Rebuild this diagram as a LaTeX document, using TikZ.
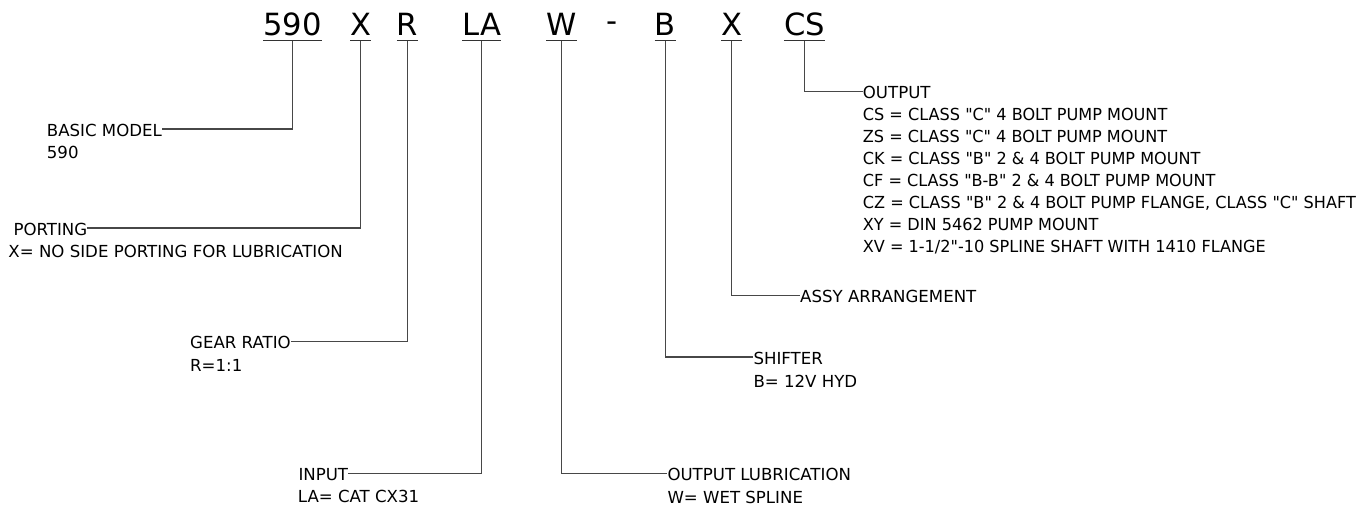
\documentclass[tikz,border=0pt]{standalone}
\usepackage{fontspec}
\setmainfont{DejaVu Sans}[Ligatures=TeXOff]
\newfontfamily\listfont{DejaVu Sans}[Ligatures=TeXOff,FakeStretch=0.97]
\begin{document}
\begin{tikzpicture}[x=1pt,y=-1pt,
  code/.style={inner sep=0pt,anchor=base,font=\fontsize{30.6}{36}\selectfont},
  lab/.style={inner sep=0pt,anchor=base west,font=\fontsize{16.6}{22}\selectfont},
  lst/.style={inner sep=0pt,anchor=base west,font=\listfont\fontsize{16.6}{22}\selectfont},
  wire/.style={draw=black!72,line width=1.2pt},
  uline/.style={draw=black!80,line width=1.2pt}]
\useasboundingbox[fill=white] (0,0) rectangle (1369,511);
% code letters
\node[code] (c590) at (292.6,35.7) {590};
\node[code] (cX)   at (360.8,35.7) {X};
\node[code] (cR)   at (407.6,35.7) {R};
\node[code] (cLA)  at (481.8,35.7) {LA};
\node[code] (cW)   at (561.8,35.7) {W};
\node[code] (cdash) at (612.3,31.5) {-};
\node[code] (cB)   at (665.2,35.7) {B};
\node[code] (cX2)  at (731.8,35.7) {X};
\node[code] (cCS)  at (804.4,35.7) {CS};
% underlines
\foreach \n in {c590,cX,cR,cLA,cW,cB,cX2,cCS}{
  \draw[uline] ([yshift=-5pt]\n.base west) -- ([yshift=-5pt]\n.base east);
  \coordinate (s\n) at ([yshift=-5pt]\n.base);
}
% labels
\node[lab] (bm) at (46.7,136) {BASIC MODEL};
\node[lab] (bmv) at (46.7,158.3) {590};
\node[lab] (port) at (13.3,235) {PORTING};
\node[lab] (portv) at (8.3,257) {X= NO SIDE PORTING FOR LUBRICATION};
\node[lab] (gear) at (190,348.3) {GEAR RATIO};
\node[lab] (gearv) at (190,371) {R=1:1};
\node[lab] (inp) at (298.3,480.7) {INPUT};
\node[lab] (inpv) at (297.7,502.7) {LA= CAT CX31};
\node[lab] (olub) at (667.3,480.7) {OUTPUT LUBRICATION};
\node[lab] (olubv) at (667.3,503) {W= WET SPLINE};
\node[lab] (shift) at (753.3,364) {SHIFTER};
\node[lab] (shiftv) at (753.3,387) {B= 12V HYD};
\node[lab] (assy) at (800,302.3) {ASSY ARRANGEMENT};
\node[lab] (out) at (862.7,98.7) {OUTPUT};
\foreach \t [count=\i] in {%
  {CS = CLASS "C" 4 BOLT PUMP MOUNT},
  {ZS = CLASS "C" 4 BOLT PUMP MOUNT},
  {CK = CLASS "B" 2 \& 4 BOLT PUMP MOUNT},
  {CF = CLASS "B-B" 2 \& 4 BOLT PUMP MOUNT},
  {CZ = CLASS "B" 2 \& 4 BOLT PUMP FLANGE, CLASS "C" SHAFT},
  {XY = DIN 5462 PUMP MOUNT},
  {XV = 1-1/2"-10 SPLINE SHAFT WITH 1410 FLANGE}}{
  \node[lst] (o\i) at (862.7,98.7+22*\i) {\t};
}
% connectors
\draw[wire] (sc590) |- ([yshift=7pt]bm.base east);
\draw[wire] (scX)   |- ([yshift=7pt]port.base east);
\draw[wire] (scR)   |- ([yshift=7pt]gear.base east);
\draw[wire] (scLA)  |- ([yshift=7pt]inp.base east);
\draw[wire] (scW)   |- ([yshift=7pt]olub.base west);
\draw[wire] (scB)   |- ([yshift=7pt]shift.base west);
\draw[wire] (scX2)  |- ([yshift=7pt]assy.base west);
\draw[wire] (scCS)  |- ([yshift=7pt]out.base west);
\end{tikzpicture}
\end{document}
